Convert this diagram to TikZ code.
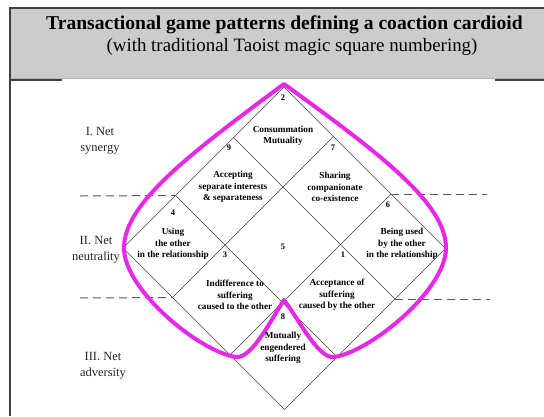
\documentclass[tikz,border=0pt]{standalone}
\usepackage{fontspec}
\setmainfont{Liberation Serif}
\definecolor{cardpink}{RGB}{232,40,232}
\begin{document}
\begin{tikzpicture}[x=1pt,y=-1pt,
  gridline/.style={draw=black!75, line width=0.6pt},
  sepline/.style={draw=black!65, line width=1pt, dash pattern=on 8pt off 5pt},
  pinkline/.style={draw=cardpink, line width=4pt, line join=round},
  celltxt/.style={font=\fontsize{9.2}{11.5}\selectfont\bfseries, align=center, inner sep=0pt},
  num/.style={font=\fontsize{8.5}{10}\selectfont\bfseries, inner sep=0pt},
  side/.style={font=\fontsize{12.5}{16}\selectfont, align=center, inner sep=0pt, text=black!85},
]
\useasboundingbox (0,0) rectangle (544,416);
% header
\fill[gray!40] (10,8) rectangle (544,78);
\draw[black!30, line width=0.5pt] (10,78) -- (544,78);
\draw[black!75, line width=2pt] (10,416) -- (10,8) -- (544,8);
\draw[black!75, line width=1.5pt] (10,80) -- (62,80);
\draw[black!75, line width=1.5pt] (495,80) -- (544,80);
\node[anchor=base, font=\fontsize{19.6}{21}\selectfont\bfseries] (title) at (284.5,29) {Transactional game patterns defining a coaction cardioid};
\node[anchor=base, font=\fontsize{18.9}{20}\selectfont] (subtitle) at (292,51) {(with traditional Taoist magic square numbering)};
% grid vertices
\coordinate (p00) at (123,248);   \coordinate (p01) at (175.5,195.5);
\coordinate (p02) at (233.5,137.5); \coordinate (p03) at (284,87);
\coordinate (p10) at (172.5,297.5); \coordinate (p11) at (225,245);
\coordinate (p12) at (283,187);   \coordinate (p13) at (333.5,136.5);
\coordinate (p20) at (230,355);   \coordinate (p21) at (282.5,302.5);
\coordinate (p22) at (340.5,244.5); \coordinate (p23) at (391,194);
\coordinate (p30) at (284.5,409.5); \coordinate (p31) at (337,357);
\coordinate (p32) at (395,299);   \coordinate (p33) at (445.5,248.5);
\foreach \i in {0,1,2,3} {
  \draw[gridline] (p\i0) -- (p\i3);
  \draw[gridline] (p0\i) -- (p3\i);
}
% dashed separators
\coordinate (dla) at (80,196);  \coordinate (dra) at (487,194);
\coordinate (dlb) at (80,298);  \coordinate (drb) at (490,299);
\draw[sepline] (dla) -- (p01);
\draw[sepline] (p23) -- (dra);
\draw[sepline] (dlb) -- (p10);
\draw[sepline] (p32) -- (drb);
% cardioid
\coordinate (apex) at (284,84);
\coordinate (cusp) at (284,300);
\draw[pinkline] (apex) .. controls (191,153) and (124,203) .. (124,248)
  .. controls (124,290) and (200,352) .. (236,357)
  .. controls (252,359) and (272,318) .. (cusp)
  .. controls (298,318) and (318,359) .. (334,357)
  .. controls (370,352) and (446,290) .. (446,248)
  .. controls (446,203) and (379,153) .. (apex) -- cycle;
% side labels
\node[side] (s1) at (100,141) {I. Net\\synergy};
\node[side] (s2) at (96,250) {II. Net\\neutrality};
\node[side] (s3) at (103,366) {III. Net\\adversity};
% numbers
\node[num] (n2) at (283,98) {2};
\node[num] (n9) at (229,148) {9};
\node[num] (n7) at (333,148) {7};
\node[num] (n4) at (173,213) {4};
\node[num] (n5) at (283,247) {5};
\node[num] (n6) at (388,205) {6};
\node[num] (n3) at (225,255) {3};
\node[num] (n1) at (343,255) {1};
\node[num] (n8) at (283,317) {8};
% cell texts
\node[celltxt] (c2) at (283,136) {Consummation\\Mutuality};
\node[celltxt] (c9) at (233,187) {Accepting\\separate interests\\\& separateness};
\node[celltxt] (c7) at (335,187) {Sharing\\companionate\\co-existence};
\node[celltxt] (c4) at (173,244) {Using\\the other\\in the relationship};
\node[celltxt] (c6) at (402,244) {Being used\\by the other\\in the relationship};
\node[celltxt] (c3) at (235,295) {Indifference to\\suffering\\caused to the other};
\node[celltxt] (c1) at (337,295) {Acceptance of\\suffering\\caused by the other};
\node[celltxt] (c8) at (283,348) {Mutually\\engendered\\suffering};
\end{tikzpicture}
\end{document}
